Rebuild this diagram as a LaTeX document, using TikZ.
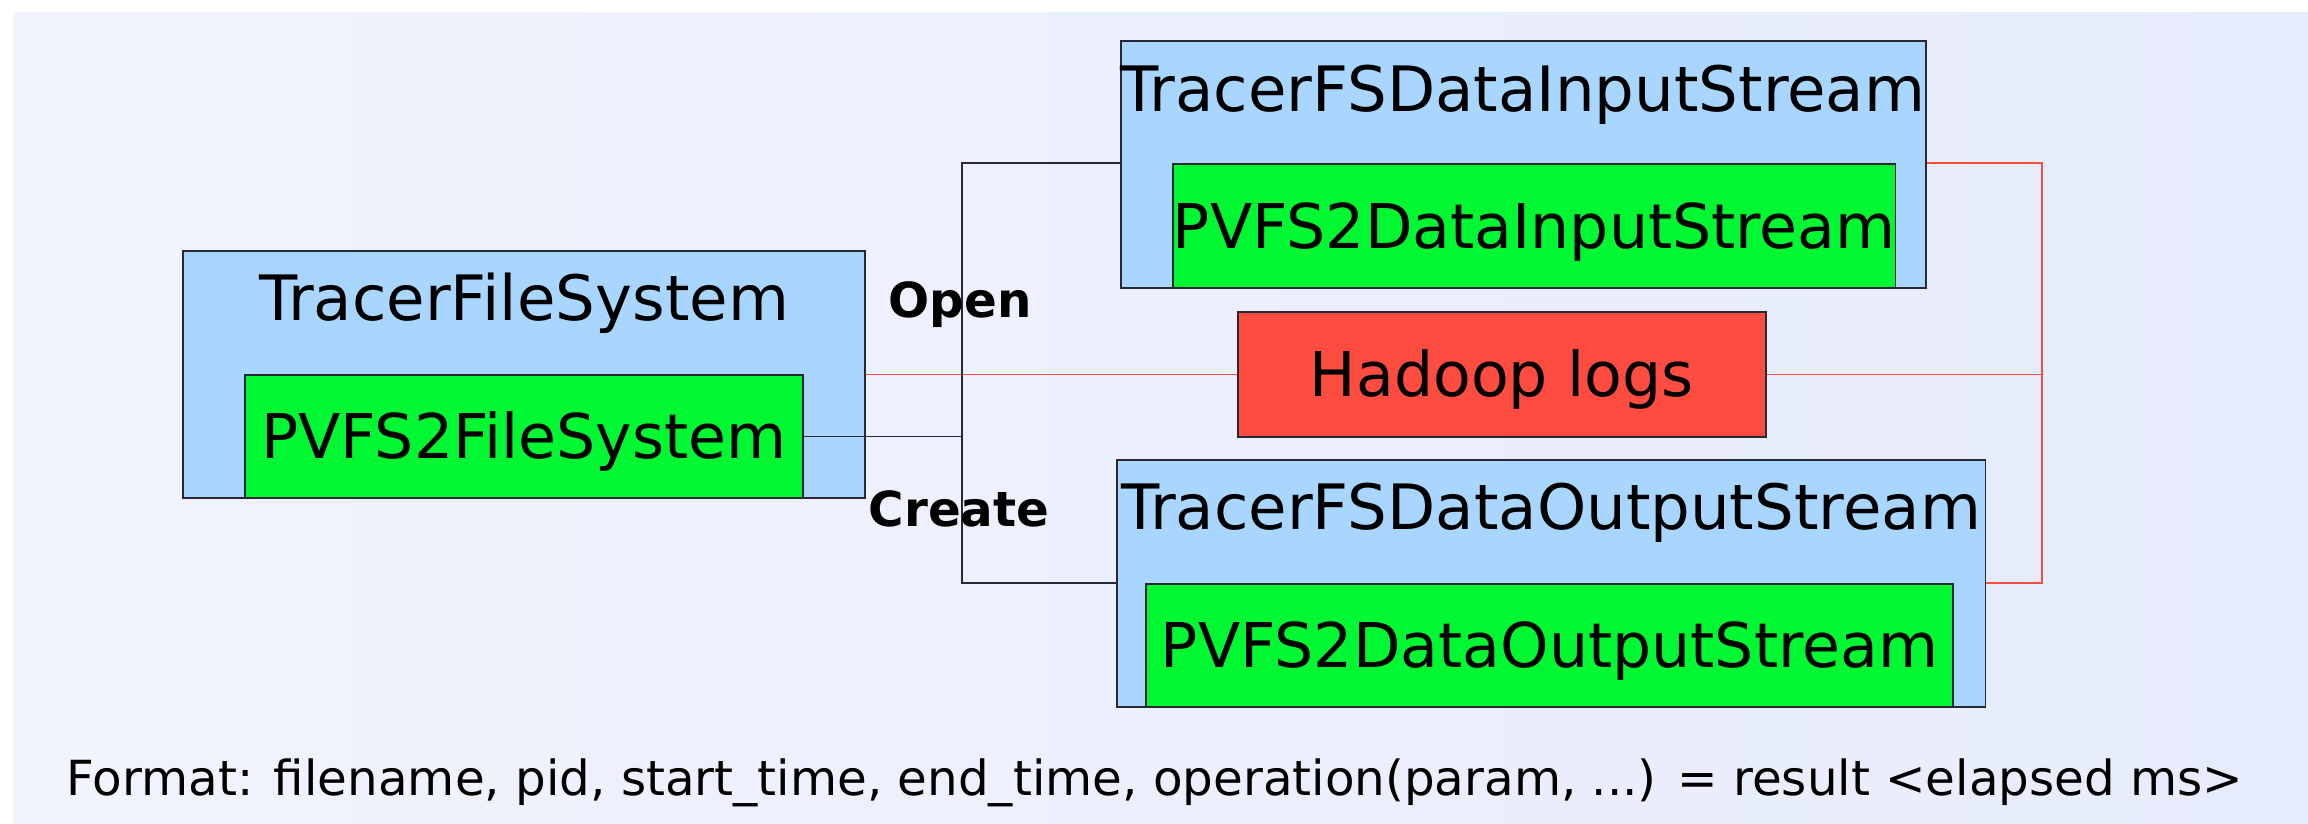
\documentclass[tikz,border=0pt]{standalone}
\usepackage{fontspec}
\setmainfont{DejaVu Sans}
\definecolor{fondA}{RGB}{241,243,253}
\definecolor{fondB}{RGB}{231,236,252}
\definecolor{bleu}{RGB}{168,214,254}
\definecolor{vert}{RGB}{0,248,50}
\definecolor{rouge}{RGB}{255,76,64}
\definecolor{trait}{RGB}{40,40,50}
\newcommand{\grand}{\fontsize{17.55}{20}\selectfont}
\newcommand{\titrefont}{\fontsize{17.8}{20}\selectfont}
\newcommand{\petit}{\fontsize{13.75}{16}\selectfont}

\begin{document}
\begin{tikzpicture}[x=0.01cm,y=-0.01cm]
\tikzset{boite/.style={draw=trait, line width=0.45pt, inner sep=0pt, anchor=north west},
  tracer/.style={boite, fill=bleu},
  pvfs/.style={boite, fill=vert, font=\grand, text height=12.8pt, text depth=0pt},
  logs/.style={boite, fill=rouge, font=\grand, text height=12.8pt, text depth=0pt},
  titre/.style={font=\titrefont, anchor=base, inner sep=0pt},
  op/.style={font=\petit\bfseries, anchor=base, inner sep=0pt},
  appel/.style={draw=trait, line width=0.45pt},
  trace/.style={draw=rouge, line width=0.4pt}}
\useasboundingbox (0,0) rectangle (2308,823);
\fill[white] (0,0) rectangle (2308,823);
\shade[left color=fondA, right color=fondB] (13,12) rectangle (2308,823);
% file system
\node[tracer, minimum width=6.82cm, minimum height=2.47cm] (TFS) at (182,250) {};
\node[titre] (TFSt) at (524,320) {TracerFileSystem};
\node[pvfs, minimum width=5.58cm, minimum height=1.23cm] (PFS) at (244,374) {PVFS2FileSystem};
% input stream
\node[tracer, minimum width=8.05cm, minimum height=2.47cm] (TDIS) at (1120,40) {};
\node[titre] (TDISt) at (1523,111) {TracerFSDataInputStream};
\node[pvfs, minimum width=7.15cm, minimum height=1.24cm] (PDIS) at (1172,163) {PVFS2DataInputStream};
% logs
\node[logs, minimum width=5.28cm, minimum height=1.25cm] (LOGS) at (1237,311) {Hadoop logs};
% output stream
\node[tracer, minimum width=8.68cm, minimum height=2.47cm] (TDOS) at (1116,459) {};
\node[titre] (TDOSt) at (1551,529) {TracerFSDataOutputStream};
\node[pvfs, minimum width=8.07cm, minimum height=1.23cm] (PDOS) at (1145,583) {PVFS2DataOutputStream};
% connectors
\coordinate (J1) at (962,0);
\coordinate (J2) at (2042,0);
\draw[trace] (TFS.east |- LOGS.west) -- (LOGS.west);
\draw[trace] (LOGS.east) -- (LOGS.east -| J2);
\draw[trace] (TDIS.east |- PDIS.north) -| (LOGS.east -| J2) |- (TDOS.east |- PDOS.north);
\draw[appel] (PFS.east) -- (PFS.east -| J1);
\draw[appel] (TDIS.west |- PDIS.north) -| (PFS.east -| J1) |- (TDOS.west |- PDOS.north);
\node[op] (OPEN) at (960,317) {Open};
\node[op] (CREATE) at (959,526) {Create};
\node[font=\petit, anchor=base, inner sep=0pt] (FMT) at (1155,795) {Format: filename, pid, start\_time, end\_time, operation(param, ...) = result <elapsed ms>};
\end{tikzpicture}
\end{document}
